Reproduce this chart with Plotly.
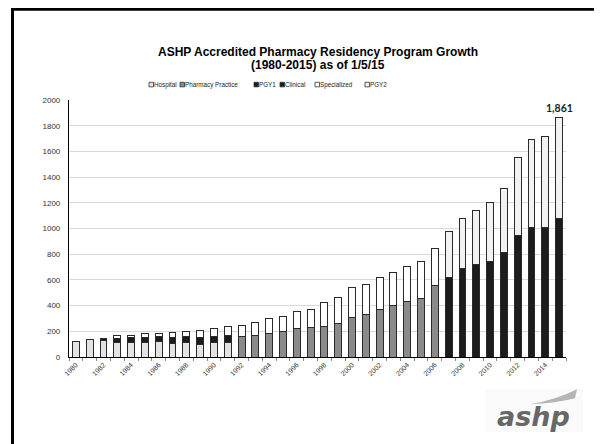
import plotly.graph_objects as go

years = [str(y) for y in range(1980, 2016)]
year_labels = [y if int(y) % 2 == 0 and y != "2015" else "" for y in years]

hospital = [120, 133, 130, 110, 116, 115, 118, 108, 115, 98, 110, 115] + [0] * 24
clinical = [0, 5, 16, 32, 34, 37, 42, 42, 42, 52, 49, 54] + [0] * 24
specialized = [0, 0, 0, 23, 15, 29, 25, 39, 41, 54, 63, 67,
               86, 103, 115, 124, 140, 147, 189, 209, 230, 238, 246, 256, 272, 286, 287] + [0] * 9
pharmacy_practice = [0] * 12 + [156, 164, 182, 195, 218, 226, 239, 257, 311, 329, 373, 404, 435, 459, 559] + [0] * 9
pgy1 = [0] * 27 + [621, 688, 719, 745, 815, 949, 1004, 1011, 1075]
pgy2 = [0] * 27 + [357, 391, 419, 455, 496, 602, 687, 708, 786]

series_names = ["Hospital", "Pharmacy Practice", "PGY1", "Clinical", "Specialized", "PGY2"]
series_values = [hospital, pharmacy_practice, pgy1, clinical, specialized, pgy2]
series_colors = ["#e3e3e3", "#8a8a8a", "#1c1c1c", "#1c1c1c", "#ffffff", "#f2f2f2"]

total_label = "1,861"

fig = go.Figure()
for name, vals, col in zip(series_names, series_values, series_colors):
    fig.add_trace(go.Bar(
        x=years, y=vals, name=name,
        marker=dict(color=col, line=dict(color="#2a2a2a", width=1)),
        showlegend=False,
    ))

# the page shows the figure 8px in from the window's top-left corner
OFF = 8
W, H = 602 - OFF, 444 - OFF
# plot area in window pixels
L, R, T, B = 69, 566, 99.5, 357.5

def px(x):
    return (x - L) / (R - L)

def py(y):
    return (B - y) / (B - T)

shapes = []
annotations = []

# slide frame
shapes.append(dict(type="rect", xref="paper", yref="paper",
                   x0=px(12.5), x1=px(600.5), y0=py(470), y1=py(8.5),
                   line=dict(color="#000000", width=3), layer="below"))

# title
for txt, ty in [("ASHP Accredited Pharmacy Residency Program Growth", 51.5),
                ("(1980-2015) as of 1/5/15", 64.5)]:
    annotations.append(dict(text="<b>" + txt + "</b>",
                            xref="paper", yref="paper", x=px(318), y=py(ty),
                            showarrow=False, xanchor="center", yanchor="middle",
                            font=dict(family="Liberation Sans, Arial", size=12, color="#000")))

# custom legend
leg_x = [149, 180, 254, 280, 315, 365]
leg_y = 84
for name, col, lx in zip(series_names, series_colors, leg_x):
    shapes.append(dict(type="rect", xref="paper", yref="paper",
                       x0=px(lx), x1=px(lx + 4.5), y0=py(leg_y + 2.3), y1=py(leg_y - 2.3),
                       fillcolor=col, line=dict(color="#333", width=0.8)))
    annotations.append(dict(text=name, xref="paper", yref="paper",
                            x=px(lx + 4.0), y=py(leg_y), showarrow=False,
                            xanchor="left", yanchor="middle", borderpad=0,
                            font=dict(family="Liberation Sans, Arial", size=6.3, color="#222")))

# total label above the last bar
annotations.append(dict(text="<b>" + total_label + "</b>", x=len(years) - 1,
                        y=sum(v[-1] for v in series_values), xref="x", yref="y",
                        showarrow=False, yanchor="bottom", yshift=2,
                        font=dict(family="Lato, Open Sans", size=10.5, color="#222")))

# logo
shapes.append(dict(type="rect", xref="paper", yref="paper",
                   x0=px(485), x1=px(583), y0=py(433), y1=py(390),
                   fillcolor="#fafafa", line=dict(width=0), layer="below"))
shapes.append(dict(type="path", xref="paper", yref="paper",
                   path=f"M {px(530)} {py(405)} Q {px(555)} {py(401)} {px(577)} {py(390)} "
                        f"L {px(575)} {py(399)} Q {px(556)} {py(404)} {px(530)} {py(405)} Z",
                   fillcolor="#b5b5b5", line=dict(width=0)))
annotations.append(dict(text="<b><i>ashp</i></b>", xref="paper", yref="paper",
                        x=px(533), y=py(417), showarrow=False,
                        xanchor="center", yanchor="middle",
                        font=dict(family="DejaVu Sans", size=27, color="#676767")))

fig.update_layout(
    width=W, height=H,
    margin=dict(l=L - OFF, r=W - (R - OFF), t=T - OFF, b=H - (B - OFF), pad=0),
    paper_bgcolor="#ffffff", plot_bgcolor="#ffffff",
    barmode="stack", bargap=0.5,
    shapes=shapes, annotations=annotations,
    font=dict(family="Liberation Sans, Arial", color="#333"),
)
fig.update_xaxes(
    type="category", range=[-0.5, len(years) - 0.5], autorange=False,
    tickmode="array", tickvals=years, ticktext=year_labels,
    tickangle=-45, tickfont=dict(size=7, color="#333"),
    showline=True, linecolor="#000", linewidth=1.2,
    ticks="outside", ticklen=3, tickcolor="#888", tickson="boundaries",
    showgrid=False,
)
fig.update_yaxes(
    range=[0, 2000], dtick=200, tickfont=dict(size=8, color="#333"),
    showline=True, linecolor="#000", linewidth=1.2,
    showgrid=True, gridcolor="#d9d9d9", gridwidth=1, zeroline=False,
    ticks="", ticklabelstandoff=6,
)
fig.write_html("out.html")
